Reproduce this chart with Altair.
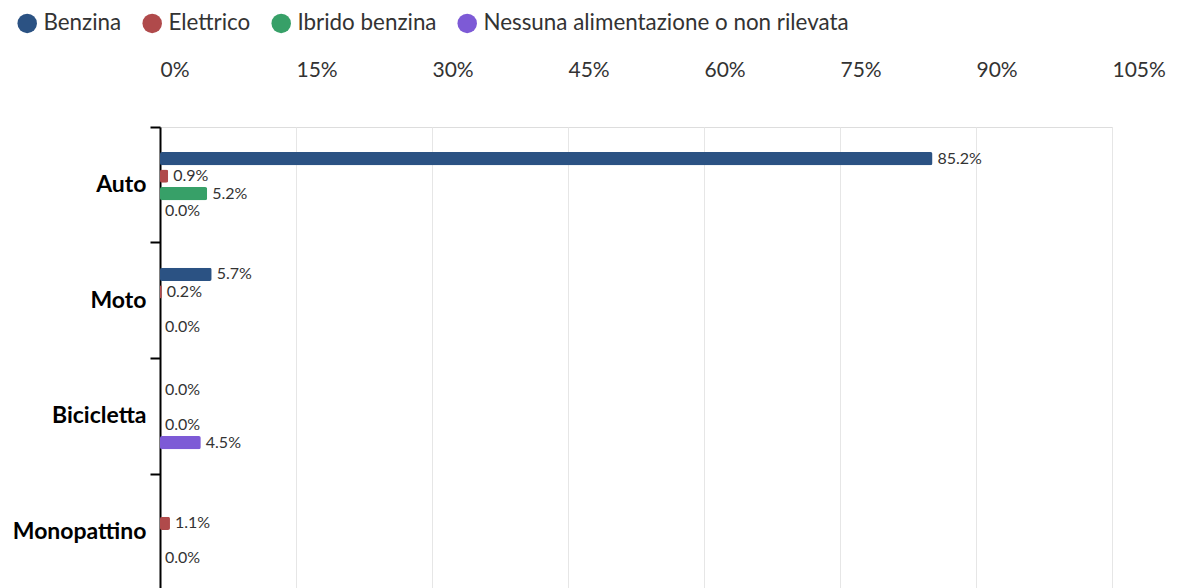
import altair as alt
import pandas as pd

categories = ["Auto", "Moto", "Bicicletta", "Monopattino"]
series = ["Benzina", "Elettrico", "Ibrido benzina", "Nessuna alimentazione o non rilevata"]
benzina = [85.2, 5.7, 0.0, None]
elettrico = [0.9, 0.2, None, 1.1]
ibrido = [5.2, None, 0.0, None]
nessuna = [0.0, 0.0, 4.5, 0.0]
colors = ["#2B5283", "#B04A4B", "#37A068", "#7D5AD6"]
x_ticks = [0, 15, 30, 45, 60, 75, 90, 105]

rows = []
for s, vals in zip(series, [benzina, elettrico, ibrido, nessuna]):
    for c, v in zip(categories, vals):
        rows.append({"categoria": c, "alimentazione": s, "valore": v})
df = pd.DataFrame(rows)

FONT = "Lato"
offset_domain = ["_pre"] + series + ["_post"]


def yoff():
    return alt.YOffset(
        "alimentazione:N",
        scale=alt.Scale(domain=offset_domain, paddingInner=0.25, paddingOuter=0.43),
    )


y_enc = alt.Y(
    "categoria:N",
    sort=categories,
    title=None,
    scale=alt.Scale(paddingInner=0, paddingOuter=0),
    axis=alt.Axis(
        bandPosition=0,
        domainColor="#000000",
        domainWidth=2,
        tickColor="#000000",
        tickWidth=2,
        tickSize=10,
        labelFont=FONT,
        labelFontSize=23,
        labelFontWeight="bold",
        labelColor="#000000",
        labelPadding=4,
        grid=False,
    ),
)

x_scale = alt.Scale(domain=[0, 105], nice=False, zero=True)
x_enc = alt.X(
    "valore:Q",
    title=None,
    scale=x_scale,
    axis=alt.Axis(
        orient="top",
        values=x_ticks,
        labelExpr="datum.value + '%'",
        labelAlign="left",
        labelFont=FONT,
        labelFontSize=21,
        labelColor="#333333",
        labelPadding=47,
        ticks=False,
        domain=False,
        grid=True,
        gridColor="#e6e6e6",
        gridWidth=1,
    ),
)

bars = alt.Chart(df).mark_bar(cornerRadius=2).encode(
    x=x_enc,
    y=y_enc,
    yOffset=yoff(),
    color=alt.Color(
        "alimentazione:N",
        sort=series,
        scale=alt.Scale(domain=series, range=colors),
        legend=alt.Legend(
            title=None,
            orient="none",
            direction="horizontal",
            legendX=-144,
            legendY=-115,
            symbolType="circle",
            symbolSize=380,
            symbolStrokeWidth=0,
            symbolOpacity=1,
            labelFont=FONT,
            labelFontSize=22.4,
            labelColor="#333333",
            labelOffset=5,
            columnPadding=19,
            labelLimit=600,
        ),
    ),
)

labels = alt.Chart(df).transform_filter(
    "isValid(datum.valore)"
).transform_calculate(
    etichetta="format(datum.valore, '.1f') + '%'"
).mark_text(
    align="left", baseline="middle", dx=5, font=FONT, fontSize=16, color="#333333"
).encode(
    x=alt.X("valore:Q", scale=x_scale),
    y=alt.Y("categoria:N", sort=categories),
    yOffset=yoff(),
    text="etichetta:N",
)

chart = alt.layer(bars, labels).properties(
    width=952, height=463, padding=4
).configure_view(stroke=None).configure(font=FONT)

chart.save("out.html", embed_options={"renderer": "svg", "actions": False})
